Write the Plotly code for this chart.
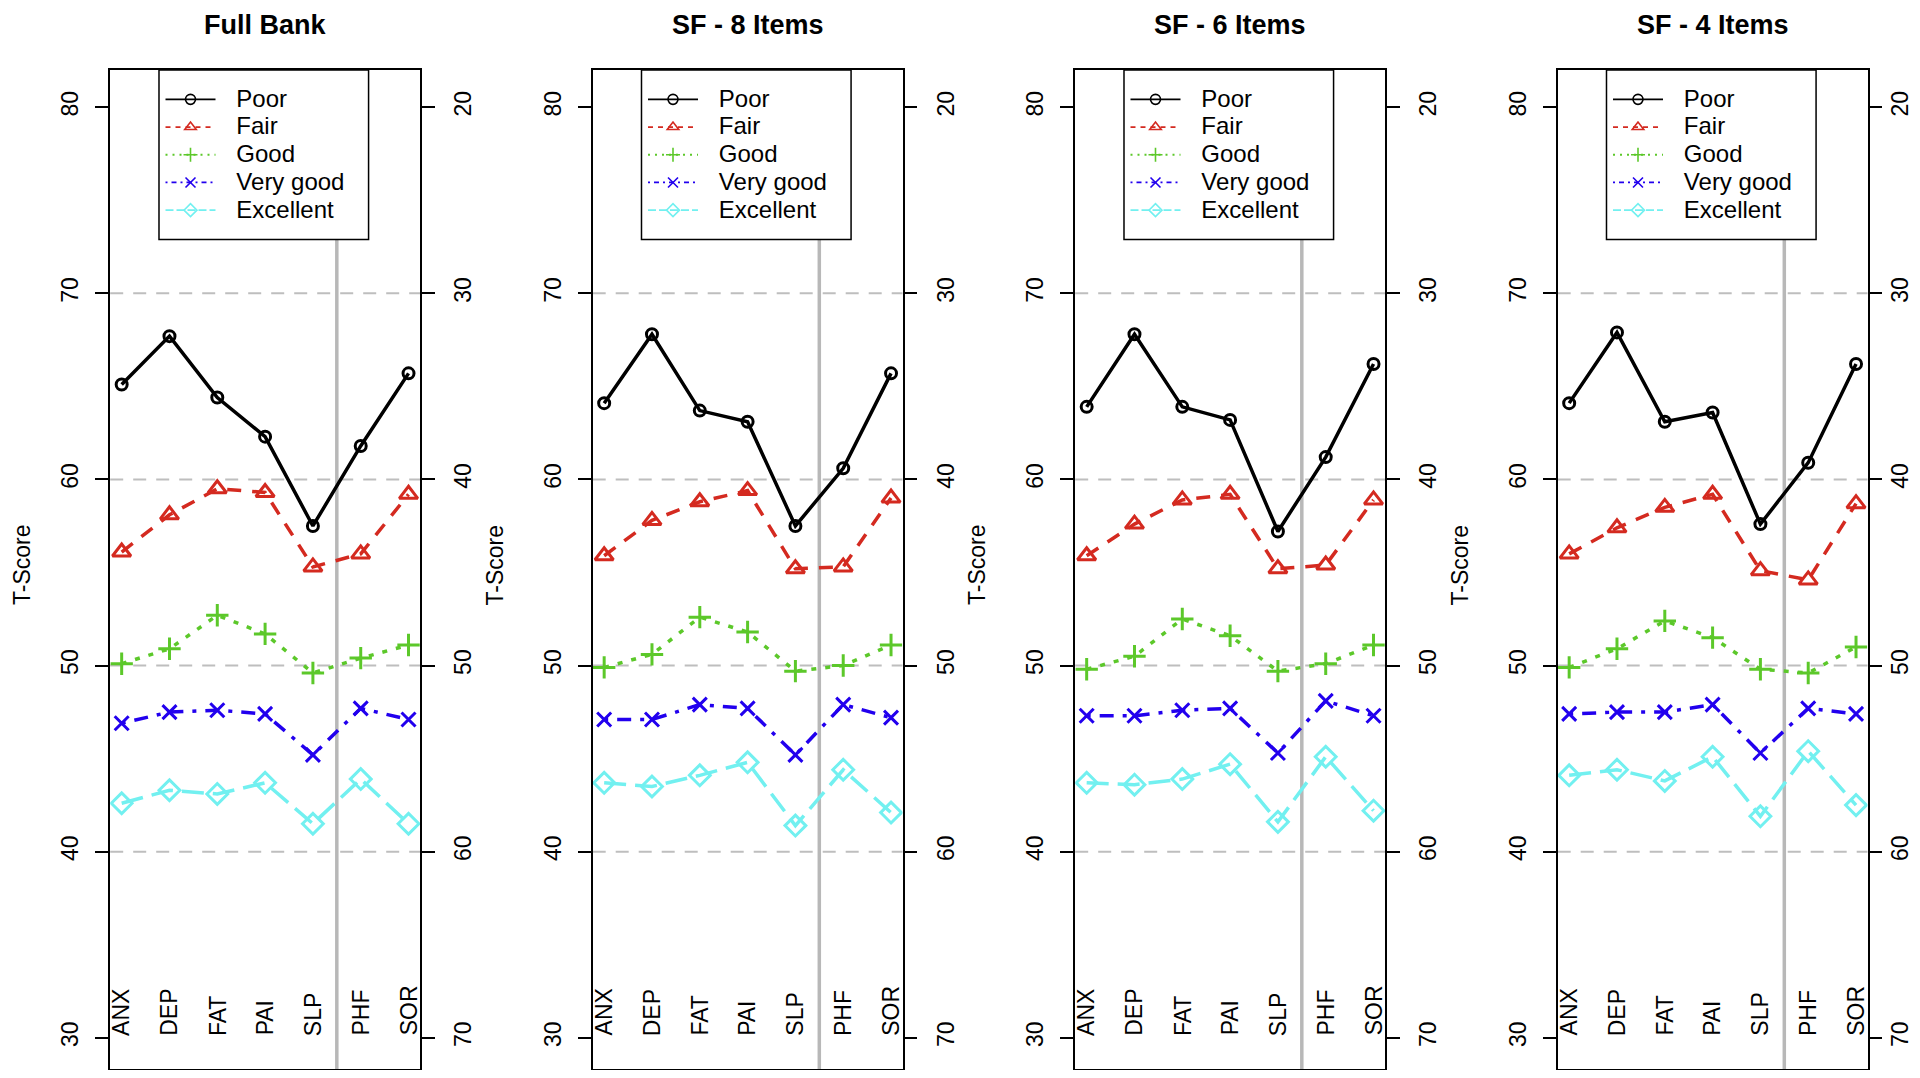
import plotly.graph_objects as go

categories = ["ANX", "DEP", "FAT", "PAI", "SLP", "PHF", "SOR"]
panel_titles = ["Full Bank", "SF - 8 Items", "SF - 6 Items", "SF - 4 Items"]
groups = ["Poor", "Fair", "Good", "Very good", "Excellent"]

full_bank = {
    "Poor":      [65.1, 67.7, 64.4, 62.3, 57.5, 61.8, 65.7],
    "Fair":      [56.1, 58.1, 59.5, 59.3, 55.3, 56.0, 59.2],
    "Good":      [50.1, 50.9, 52.7, 51.7, 49.6, 50.4, 51.1],
    "Very good": [46.9, 47.5, 47.6, 47.4, 45.2, 47.7, 47.1],
    "Excellent": [42.6, 43.3, 43.1, 43.7, 41.5, 43.9, 41.5],
}
sf8 = {
    "Poor":      [64.1, 67.8, 63.7, 63.1, 57.5, 60.6, 65.7],
    "Fair":      [55.9, 57.8, 58.8, 59.4, 55.2, 55.3, 59.0],
    "Good":      [49.9, 50.6, 52.6, 51.8, 49.7, 50.0, 51.1],
    "Very good": [47.1, 47.1, 47.9, 47.7, 45.2, 47.9, 47.2],
    "Excellent": [43.7, 43.5, 44.1, 44.8, 41.4, 44.4, 42.1],
}
sf6 = {
    "Poor":      [63.9, 67.8, 63.9, 63.2, 57.2, 61.2, 66.2],
    "Fair":      [55.9, 57.6, 58.9, 59.2, 55.2, 55.4, 58.9],
    "Good":      [49.8, 50.5, 52.5, 51.6, 49.7, 50.1, 51.1],
    "Very good": [47.3, 47.3, 47.6, 47.7, 45.3, 48.1, 47.3],
    "Excellent": [43.7, 43.6, 43.9, 44.7, 41.6, 45.1, 42.2],
}
sf4 = {
    "Poor":      [64.1, 67.9, 63.1, 63.6, 57.6, 60.9, 66.2],
    "Fair":      [56.0, 57.4, 58.5, 59.2, 55.1, 54.6, 58.7],
    "Good":      [49.9, 50.9, 52.4, 51.5, 49.8, 49.6, 51.0],
    "Very good": [47.4, 47.5, 47.5, 47.9, 45.3, 47.7, 47.4],
    "Excellent": [44.1, 44.4, 43.8, 45.1, 41.9, 45.4, 42.5],
}
panels = [full_bank, sf8, sf6, sf4]

left_ticks = [30, 40, 50, 60, 70, 80]
right_ticks = [20, 30, 40, 50, 60, 70]
grid_values = [40, 50, 60, 70]

# style per group (R lty / pch look)
colors = {"Poor": "#000000", "Fair": "#D42A20", "Good": "#5CC82A",
          "Very good": "#2200EE", "Excellent": "#72F0F0"}
dash_plot = {"Poor": "solid", "Fair": "14px,11px", "Good": "5px,9px",
             "Very good": "4px,9px,14px,9px", "Excellent": "22px,9px"}
dash_legend = {"Poor": "solid", "Fair": "5px,5px", "Good": "2px,5px",
               "Very good": "2px,4px,5px,4px", "Excellent": "8px,3px"}
symbols = {"Poor": "circle-open", "Fair": "triangle-up-open", "Good": "cross-thin-open",
           "Very good": "x-thin-open", "Excellent": "diamond-open"}
sizes = {"Poor": 11, "Fair": 16, "Good": 16, "Very good": 14, "Excellent": 16}

FONT = "Liberation Sans, Arial, sans-serif"
PAGE = 8                      # browser body margin
W, H = 1920 - 2 * PAGE, 1078 - 2 * PAGE
TOP, BOTTOM = 69.5 - PAGE, 1
PLOT_H = H - TOP - BOTTOM
PX_PER_UNIT = 18.62
Y_TOP = 82
Y_BOT = Y_TOP - PLOT_H / PX_PER_UNIT
panel_px = [(110.2, 420.0), (592.7, 902.5), (1075.2, 1385.0), (1557.7, 1867.5)]
LEG_X0, LEG_X1 = 0.1575, 0.834
LEG_Y0 = 1 - (239 - 69.5) / PLOT_H

fig = go.Figure()
layout = dict(width=W, height=H, plot_bgcolor="white", paper_bgcolor="white",
              margin=dict(l=0, r=0, t=TOP, b=BOTTOM), font=dict(family=FONT, size=23, color="black"),
              showlegend=True)
shapes, annotations = [], []

for i, (data, title) in enumerate(zip(panels, panel_titles)):
    n = i + 1
    xa = "x" if n == 1 else f"x{n}"
    ya = "y" if n == 1 else f"y{n}"
    ya_r = f"y{n + 4}"
    leg = "legend" if n == 1 else f"legend{n}"
    left, right = panel_px[i][0] - PAGE, panel_px[i][1] - PAGE
    d0, d1 = left / W, right / W

    for g in groups:
        fig.add_trace(go.Scatter(
            x=categories, y=data[g], name=g, mode="lines+markers", xaxis=xa, yaxis=ya,
            line=dict(color=colors[g], width=3.5, dash=dash_plot[g]),
            marker=dict(symbol=symbols[g], size=sizes[g], color=colors[g],
                        line=dict(color=colors[g], width=3)),
            showlegend=False))
    # legend entries (thin lines like the R legend)
    for g in groups:
        fig.add_trace(go.Scatter(
            x=[None], y=[None], mode="lines+markers", xaxis=xa, yaxis=ya,
            name=f"&nbsp;&nbsp;&nbsp;<span style='font-size:24px'>{g}</span>",
            line=dict(color=colors[g], width=1.8, dash=dash_legend[g]),
            marker=dict(symbol=symbols[g], size=10, color=colors[g],
                        line=dict(color=colors[g], width=1.6)),
            legend=leg, showlegend=True))
    # carrier for the right-hand axis
    fig.add_trace(go.Scatter(x=[None], y=[None], xaxis=xa, yaxis=ya_r, showlegend=False,
                             hoverinfo="skip"))

    ax_key = "xaxis" if n == 1 else f"xaxis{n}"
    ay_key = "yaxis" if n == 1 else f"yaxis{n}"
    layout[ax_key] = dict(domain=[d0, d1], anchor=ya, type="category", range=[-0.24, 6.24],
                          showticklabels=False, ticks="", showgrid=False, zeroline=False,
                          showline=True, mirror=True, linecolor="black", linewidth=1.5)
    layout[ay_key] = dict(domain=[0, 1], anchor=xa, range=[Y_BOT, Y_TOP], tickvals=left_ticks,
                          tickangle=-90, ticks="outside", ticklen=13, tickwidth=1.5,
                          tickcolor="black", ticklabelstandoff=8, showgrid=False,
                          zeroline=False, showline=True, linecolor="black", linewidth=1.5,
                          tickfont=dict(size=23), automargin=False)
    layout[f"yaxis{n + 4}"] = dict(overlaying=ya, anchor=xa, side="right",
                                   range=[100 - Y_BOT, 100 - Y_TOP],
                                   tickvals=right_ticks, tickangle=-90, ticks="outside",
                                   ticklen=13, tickwidth=1.5, tickcolor="black",
                                   ticklabelstandoff=9 if n < 4 else -2, showgrid=False,
                                   zeroline=False, showline=True, linecolor="black",
                                   linewidth=1.5, tickfont=dict(size=23), automargin=False)
    layout[leg] = dict(x=(left + 58.3 - PAGE) / W, y=1 - 10.5 / PLOT_H,
                       xanchor="left", yanchor="top", bgcolor="rgba(0,0,0,0)", borderwidth=0,
                       itemwidth=50, tracegroupgap=0, font=dict(size=19, family=FONT),
                       itemclick=False, itemdoubleclick=False)

    xd, yd = f"{xa} domain", f"{ya} domain"
    for gv in grid_values:
        shapes.append(dict(type="line", xref=xd, x0=0, x1=1, yref=ya, y0=gv, y1=gv,
                           line=dict(color="#BEBEBE", width=2, dash="13px,10px"), layer="below"))
    shapes.append(dict(type="line", xref=xa, x0=4.5, x1=4.5, yref=yd, y0=0, y1=LEG_Y0,
                       line=dict(color="#B8B8B8", width=3.5), layer="below"))
    shapes.append(dict(type="rect", xref=xd, x0=LEG_X0, x1=LEG_X1, yref=yd, y0=LEG_Y0, y1=1,
                       line=dict(color="black", width=1.5), fillcolor="rgba(0,0,0,0)"))

    annotations.append(dict(text=f"<b>{title}</b>", xref=xd, x=0.5, yref=yd, y=1, yshift=45,
                            showarrow=False, xanchor="center", yanchor="middle",
                            font=dict(size=27, family=FONT)))
    annotations.append(dict(text="T-Score", xref=xd, x=0, xshift=-98 if n > 1 else -88,
                            yref="paper", y=1 - (564.5 - 69.5) / PLOT_H, textangle=-90,
                            showarrow=False, xanchor="center", yanchor="middle",
                            font=dict(size=23, family=FONT)))
    for c in categories:
        annotations.append(dict(text=c, xref=xa, x=c, yref=ya, y=30, textangle=-90,
                                showarrow=False, xanchor="center", yanchor="bottom",
                                font=dict(size=23, family=FONT)))

layout["shapes"] = shapes
layout["annotations"] = annotations
fig.update_layout(**layout)
fig.write_html("out.html")
